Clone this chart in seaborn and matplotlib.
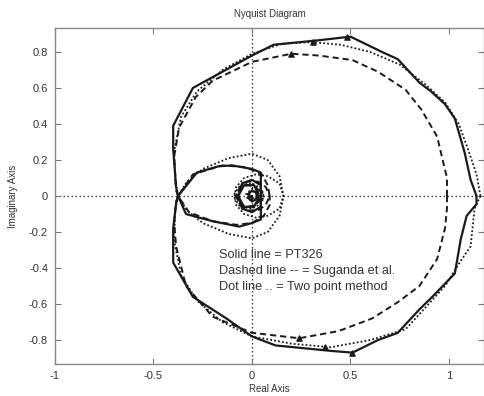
import matplotlib
matplotlib.use("Agg")
import matplotlib.pyplot as plt
import seaborn as sns
import pandas as pd

# ---- data ----
# Solid line = PT326 (two branches: upper outer -> inner lower, lower outer -> inner upper)
pt_up_x = [1.14, 1.11, 1.08, 1.03, 0.98, 0.91, 0.85, 0.74, 0.66, 0.50, 0.34, 0.11, 0.00, -0.20, -0.30, -0.40, -0.40, -0.385, -0.375,
           -0.335, -0.20, -0.065, 0.00, 0.045, 0.045, 0.00, -0.05, -0.07, -0.04, 0.01, 0.03, 0.02, 0.00, -0.02, -0.01, 0.00]
pt_up_y = [0.00, 0.09, 0.24, 0.43, 0.51, 0.58, 0.63, 0.76, 0.80, 0.885, 0.865, 0.84, 0.78, 0.66, 0.60, 0.39, 0.26, 0.05, 0.00,
           -0.10, -0.14, -0.17, -0.15, -0.13, 0.06, 0.09, 0.07, 0.00, -0.06, -0.06, -0.02, 0.02, 0.03, 0.01, -0.01, 0.00]
pt_lo_x = [1.14, 1.14, 1.09, 1.06, 1.03, 0.92, 0.85, 0.74, 0.64, 0.51, 0.40, 0.12, 0.00, -0.13, -0.30, -0.40, -0.40, -0.385, -0.375,
           -0.28, -0.17, -0.10, 0.00, 0.045, 0.045, 0.00, -0.05, -0.07, -0.04, 0.01, 0.03, 0.02, 0.00, -0.02, 0.00]
pt_lo_y = [0.00, -0.045, -0.11, -0.24, -0.43, -0.555, -0.63, -0.76, -0.80, -0.87, -0.86, -0.83, -0.78, -0.68, -0.56, -0.37, -0.18, -0.04, 0.00,
           0.13, 0.165, 0.17, 0.15, 0.13, -0.06, -0.09, -0.07, 0.00, 0.06, 0.06, 0.02, -0.02, -0.03, -0.01, 0.00]

# Dashed line = Suganda et al.
sg_up_x = [0.99, 0.99, 0.94, 0.86, 0.78, 0.64, 0.51, 0.34, 0.20, 0.00, -0.20, -0.285, -0.37, -0.395, -0.385, -0.375,
           -0.32, -0.20, -0.08, 0.00, 0.06, 0.09, 0.09, 0.07, 0.03, -0.02, -0.06, -0.08, -0.06, -0.02, 0.02, 0.04, 0.03, 0.00, -0.02, 0.00]
sg_up_y = [0.00, 0.10, 0.33, 0.48, 0.59, 0.69, 0.755, 0.78, 0.79, 0.745, 0.64, 0.55, 0.38, 0.22, 0.03, 0.00,
           -0.09, -0.14, -0.16, -0.15, -0.11, -0.05, 0.00, 0.05, 0.08, 0.08, 0.05, 0.00, -0.05, -0.06, -0.05, -0.02, 0.02, 0.03, 0.01, 0.00]
sg_lo_x = [0.99, 0.99, 0.98, 0.94, 0.85, 0.74, 0.61, 0.44, 0.24, 0.00, -0.20, -0.335, -0.385, -0.395, -0.385, -0.375,
           -0.30, -0.15, -0.03, 0.05, 0.08, 0.09, 0.07, 0.03, -0.02, -0.06, -0.08, -0.06, -0.02, 0.02, 0.04, 0.03, 0.00, 0.00]
sg_lo_y = [0.00, -0.07, -0.18, -0.35, -0.50, -0.59, -0.68, -0.75, -0.79, -0.76, -0.67, -0.50, -0.28, -0.15, -0.03, 0.00,
           0.12, 0.17, 0.16, 0.12, 0.06, 0.00, -0.05, -0.08, -0.08, -0.05, 0.00, 0.05, 0.06, 0.05, 0.02, -0.02, -0.03, 0.00]

# Dot line = Two point method
tp_up_x = [1.16, 1.14, 1.10, 1.05, 0.98, 0.88, 0.75, 0.60, 0.45, 0.30, 0.15, 0.00, -0.15, -0.28, -0.36, -0.395, -0.39, -0.375,
           -0.33, -0.25, -0.12, 0.00, 0.08, 0.14, 0.16, 0.14, 0.08, 0.02, -0.04, -0.08, -0.09, -0.06, 0.00, 0.05, 0.06, 0.03, 0.00, -0.03, -0.02, 0.00, 0.01]
tp_up_y = [0.00, 0.12, 0.25, 0.40, 0.52, 0.62, 0.73, 0.80, 0.84, 0.855, 0.845, 0.79, 0.70, 0.58, 0.44, 0.25, 0.08, 0.00,
           -0.08, -0.15, -0.21, -0.235, -0.20, -0.11, 0.00, 0.07, 0.11, 0.12, 0.10, 0.05, -0.01, -0.06, -0.07, -0.04, 0.01, 0.04, 0.04, 0.01, -0.02, -0.02, 0.00]
tp_lo_x = [1.16, 1.13, 1.11, 1.06, 0.98, 0.88, 0.78, 0.60, 0.40, 0.20, 0.00, -0.15, -0.28, -0.36, -0.395, -0.39, -0.375,
           -0.33, -0.25, -0.12, 0.00, 0.08, 0.14, 0.16, 0.14, 0.08, 0.02, -0.04, -0.08, -0.09, -0.06, 0.00, 0.05, 0.06, 0.03, 0.00]
tp_lo_y = [0.00, -0.07, -0.28, -0.36, -0.50, -0.62, -0.74, -0.80, -0.84, -0.82, -0.78, -0.70, -0.58, -0.44, -0.25, -0.08, 0.00,
           0.08, 0.15, 0.21, 0.235, 0.20, 0.11, 0.00, -0.07, -0.11, -0.12, -0.10, -0.05, 0.01, 0.06, 0.07, 0.04, -0.01, -0.04, 0.00]

# arrow markers along the curves
arrow_x = [0.48, 0.51, 0.20, 0.24, 0.31, 0.37]
arrow_y = [0.885, -0.87, 0.79, -0.79, 0.855, -0.84]

x_ticks = [-1, -0.5, 0, 0.5, 1]
x_labels = ["-1", "-0.5", "0", "0.5", "1"]
y_ticks = [0.8, 0.6, 0.4, 0.2, 0, -0.2, -0.4, -0.6, -0.8]
y_labels = ["0.8", "0.6", "0.4", "0.2", "0", "-0.2", "-0.4", "-0.6", "-0.8"]

notes = ["Solid line = PT326", "Dashed line -- = Suganda et al.", "Dot line .. = Two point method"]

# ---- drawing ----
sns.set_theme(style="ticks")
plt.rcParams["font.family"] = ["Liberation Sans", "DejaVu Sans"]
plt.rcParams["axes.unicode_minus"] = False

fig = plt.figure(figsize=(4.85, 3.96), dpi=100)
ax = fig.add_axes([55 / 485, 32 / 396, 429 / 485, 336 / 396])

ink = "#1a1a1a"
branches = [
    (pt_up_x, pt_up_y, "-", 1.6), (pt_lo_x, pt_lo_y, "-", 1.6),
    (sg_up_x, sg_up_y, (0, (3.2, 2.0)), 1.4), (sg_lo_x, sg_lo_y, (0, (3.2, 2.0)), 1.4),
    (tp_up_x, tp_up_y, (0, (1, 1.2)), 1.3), (tp_lo_x, tp_lo_y, (0, (1, 1.2)), 1.3),
]
for bx, by, ls, lw in branches:
    df = pd.DataFrame({"x": bx, "y": by})
    sns.lineplot(data=df, x="x", y="y", sort=False, estimator=None, ax=ax,
                 color=ink, linestyle=ls, linewidth=lw)

ax.scatter(arrow_x, arrow_y, marker="^", s=14, color=ink, zorder=5)

ax.axhline(0, color="#333333", linestyle=(0, (1.2, 2)), linewidth=0.9, zorder=0)
ax.axvline(0, color="#333333", linestyle=(0, (1.2, 2)), linewidth=0.9, zorder=0)

ax.set_xlim(-1, 1.178)
ax.set_ylim(-0.933, 0.933)
ax.set_xticks(x_ticks)
ax.set_xticklabels(x_labels)
ax.set_yticks(y_ticks)
ax.set_yticklabels(y_labels)
ax.tick_params(direction="in", length=4, width=0.8, top=True, right=True,
               labelsize=8, colors="#777777", labelcolor="#333333", pad=5)
for s in ax.spines.values():
    s.set_color("#888888")
    s.set_linewidth(1.0)

ax.set_xlabel("Real Axis", fontsize=7, color="#333333", labelpad=2)
ax.set_ylabel("Imaginary Axis", fontsize=7, color="#333333", labelpad=8)
ax.set_title("Nyquist Diagram", fontsize=7, color="#333333", pad=8)

for i, t in enumerate(notes):
    ax.text(-0.168, -0.33 - 0.089 * i, t, fontsize=9.2, color="#333333",
            va="center", ha="left")

fig.savefig("out.png", dpi=100)
